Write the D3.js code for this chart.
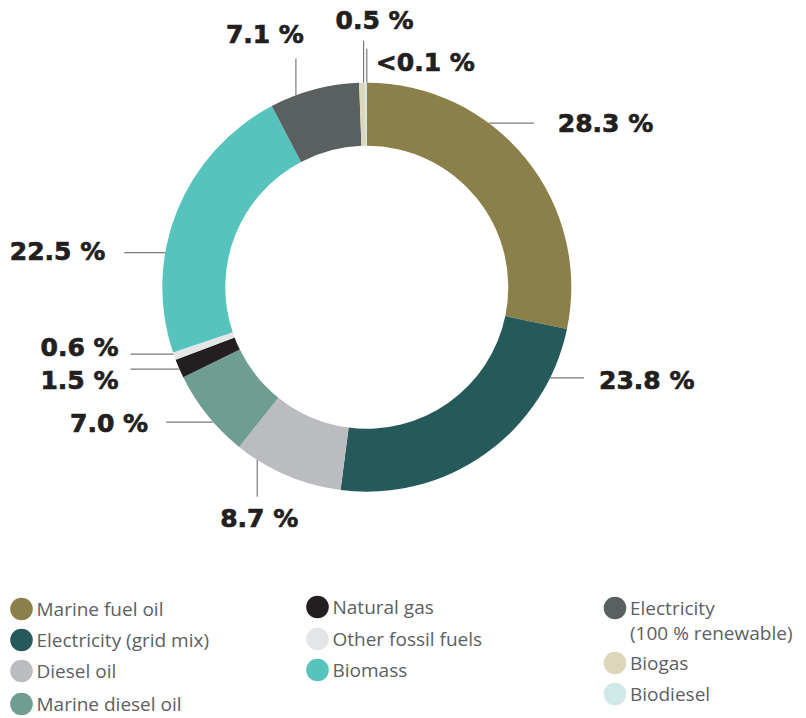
<!DOCTYPE html>
<html>
<head>
<meta charset="utf-8">
<script src="https://cdn.jsdelivr.net/npm/d3@7"></script>
<style>
  body { margin: 0; background: #fff; }
  svg { display: block; }
</style>
</head>
<body>
<svg id="chart" width="806" height="718"></svg>
<script>
// energy sources, clockwise from the top
const categories = [
  "Marine fuel oil", "Electricity (grid mix)", "Diesel oil", "Marine diesel oil",
  "Natural gas", "Other fossil fuels", "Biomass", "Electricity (100 % renewable)",
  "Biogas", "Biodiesel"
];
const shares = [28.3, 23.8, 8.7, 7.0, 1.5, 0.6, 22.5, 7.1, 0.5, 0.1];
const shareLabels = ["28.3 %", "23.8 %", "8.7 %", "7.0 %", "1.5 %", "0.6 %", "22.5 %", "7.1 %", "0.5 %", "<0.1 %"];
const colors = [
  "#8b8049", "#265a5a", "#bbbcbf", "#6e9d92", "#231f20",
  "#e4e5e6", "#56c3bc", "#5a5f60", "#dcd6bb", "#cfe9e9"
];

// legend columns (index into categories)
const legendCols = [[0, 1, 2, 3], [4, 5, 6], [7, 8, 9]];

// leader lines: where on the slice (t), which way, how long, label offset from line end
const leaders = [
  { t: 0.36, dir: "right", len: 45, dx: 24, dy: 8.5, anchor: "start" },
  { t: 0.17, dir: "right", len: 34, dx: 15, dy: 11, anchor: "start" },
  { t: 0.80, dir: "down", len: 37, dx: 2, dy: 30, anchor: "middle" },
  { t: 0.40, dir: "left", len: 47, dx: -18, dy: 10, anchor: "end" },
  { t: 0.47, dir: "left", len: 49, dx: -12, dy: 20, anchor: "end" },
  { t: 0.77, dir: "left", len: 43, dx: -12, dy: 2, anchor: "end" },
  { t: 0.35, dir: "left", len: 41, dx: -19, dy: 7.5, anchor: "end" },
  { t: 0.29, dir: "up", len: 37, dx: -31, dy: -15, anchor: "middle" },
  { t: 0.70, dir: "up", len: 42, dx: 11, dy: -11.5, anchor: "middle" },
  { t: 1.00, dir: "up", len: 34, dx: 9, dy: 22.5, anchor: "start" }
];

const svg = d3.select("#chart");

const cx = 366.8, cy = 287.2;
const outerR = 204.5, innerR = 141.5;

const color = d3.scaleOrdinal().domain(categories).range(colors);

const data = categories.map((c, i) => ({ name: c, value: shares[i], label: shareLabels[i], i: i }));

const pie = d3.pie()
  .sort(null)
  .value(d => d.value);

const arc = d3.arc()
  .innerRadius(innerR)
  .outerRadius(outerR);

const arcs = pie(data);

const g = svg.append("g")
  .attr("transform", `translate(${cx}, ${cy})`);

g.selectAll("path.slice")
  .data(arcs)
  .enter().append("path")
  .attr("class", "slice")
  .attr("d", arc)
  .attr("fill", d => color(d.data.name));

// leader lines and value labels
arcs.forEach((a, i) => {
  const L = leaders[i];
  const ang = a.startAngle + L.t * (a.endAngle - a.startAngle);
  const x0 = Math.sin(ang) * outerR;
  const y0 = -Math.cos(ang) * outerR;
  let x1 = x0, y1 = y0;
  if (L.dir == "right") x1 = x0 + L.len;
  if (L.dir == "left") x1 = x0 - L.len;
  if (L.dir == "up") y1 = y0 - L.len;
  if (L.dir == "down") y1 = y0 + L.len;

  g.append("line")
    .attr("x1", x0).attr("y1", y0)
    .attr("x2", x1).attr("y2", y1)
    .attr("stroke", "#7a7a7a")
    .attr("stroke-width", 1.2);

  g.append("text")
    .attr("x", x1 + L.dx)
    .attr("y", y1 + L.dy)
    .attr("text-anchor", L.anchor)
    .attr("font-family", "DejaVu Sans, sans-serif")
    .attr("font-weight", "bold")
    .attr("font-size", 25)
    .attr("fill", "#231f20")
    .attr("stroke", "#231f20")
    .attr("stroke-width", 0.7)
    .text(a.data.label);
});

// legend
const colX = [21.5, 317.5, 615];
const rowY = [[609, 640, 671, 704], [607, 639, 670], [608, 663, 694]];

legendCols.forEach((col, ci) => {
  col.forEach((idx, ri) => {
    const lg = svg.append("g")
      .attr("transform", `translate(${colX[ci]}, ${rowY[ci][ri]})`);
    lg.append("circle")
      .attr("r", 11.3)
      .attr("fill", colors[idx]);
    const name = categories[idx];
    const lines = name == "Electricity (100 % renewable)" ? ["Electricity", "(100 % renewable)"] : [name];
    const t = lg.append("text")
      .attr("x", 15)
      .attr("y", 7)
      .attr("font-family", "Open Sans, sans-serif")
      .attr("font-size", 19)
      .attr("fill", "#5c6062");
    lines.forEach((s, k) => {
      t.append("tspan")
        .attr("x", 15)
        .attr("dy", k == 0 ? 0 : 25)
        .text(s);
    });
  });
});
</script>
</body>
</html>
